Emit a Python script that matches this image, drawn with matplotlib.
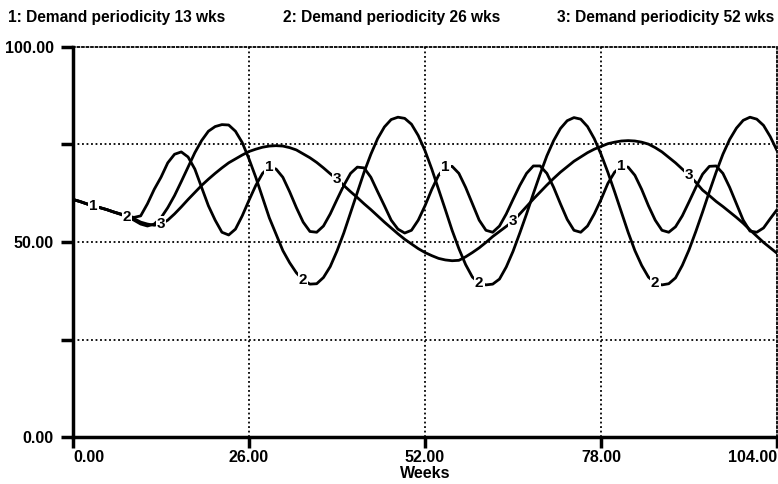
import numpy as np
import matplotlib.pyplot as plt

plt.rcParams['font.family'] = ['Liberation Sans', 'DejaVu Sans']

# weeks 0..104
weeks = np.arange(0, 105)

# 1: Demand periodicity 13 wks
demand_13 = [60.9, 60.4, 59.8, 59.2, 58.8, 58.3, 57.7, 57.2, 56.7, 56.3,
             56.7, 59.8, 63.5, 66.6, 70.3, 72.5, 73.1, 71.8, 68.7, 64.0,
             59.3, 55.6, 52.5, 51.8, 53.3, 56.7, 60.7, 64.5, 67.6, 69.2,
             68.7, 66.6, 62.9, 58.8, 55.1, 52.7, 52.5, 54.1, 57.2, 60.9,
             64.5, 67.6, 69.2, 69.0, 66.6, 62.9, 59.3, 55.6, 53.3, 52.3,
             53.0, 55.6, 59.3, 63.5, 67.1, 69.2, 69.4, 67.6, 64.0, 59.8,
             55.6, 53.0, 52.5, 54.1, 57.2, 60.9, 64.5, 67.6, 69.5, 69.5,
             67.6, 64.0, 59.8, 55.8, 53.0, 52.5, 54.1, 57.2, 60.9, 65.0,
             67.9, 69.4, 69.2, 67.1, 63.5, 59.3, 55.6, 53.0, 52.5, 53.9,
             56.7, 60.3, 64.0, 67.4, 69.4, 69.5, 67.6, 64.0, 59.8, 55.6,
             52.8, 52.5, 53.6, 56.0, 58.3]

# 2: Demand periodicity 26 wks
demand_26 = [60.9, 60.4, 59.8, 59.3, 58.8, 58.3, 57.7, 57.1, 56.5, 55.6,
             54.6, 54.1, 54.6, 56.2, 58.8, 61.9, 65.5, 69.2, 72.9, 76.0,
             78.4, 79.6, 80.1, 80.0, 78.4, 75.5, 71.3, 66.6, 61.4, 56.2,
             52.0, 47.8, 44.7, 42.1, 40.3, 39.2, 39.3, 40.9, 43.7, 47.7,
             52.3, 57.5, 62.7, 67.9, 72.5, 76.5, 79.5, 81.4, 82.0, 81.7,
             80.2, 77.3, 73.4, 68.7, 63.5, 58.3, 53.0, 48.3, 44.2, 41.0,
             39.5, 39.0, 39.2, 40.5, 43.6, 47.6, 52.3, 57.2, 62.4, 67.4,
             72.1, 76.0, 79.1, 81.1, 81.9, 81.5, 79.6, 76.5, 72.5, 67.9,
             62.9, 57.7, 52.5, 47.8, 44.0, 41.0, 39.5, 39.0, 39.3, 40.8,
             44.0, 48.0, 52.7, 57.7, 62.9, 67.9, 72.5, 76.3, 79.2, 81.2,
             82.0, 81.5, 79.9, 77.0, 73.4]

# 3: Demand periodicity 52 wks
demand_52 = [60.9, 60.4, 59.8, 59.3, 58.8, 58.3, 57.7, 57.2, 56.7, 56.0,
             55.1, 54.6, 54.3, 54.6, 55.6, 57.2, 59.0, 60.9, 62.7, 64.5,
             66.1, 67.6, 69.0, 70.3, 71.3, 72.3, 73.2, 73.8, 74.3, 74.6,
             74.7, 74.6, 74.2, 73.6, 72.6, 71.6, 70.4, 69.0, 67.5, 66.1,
             64.5, 62.9, 61.4, 59.8, 58.3, 56.7, 55.1, 53.6, 52.1, 50.7,
             49.5, 48.3, 47.3, 46.5, 45.8, 45.4, 45.2, 45.3, 46.2, 47.3,
             48.5, 49.9, 51.4, 52.7, 54.0, 55.3, 57.2, 59.1, 61.0, 62.8,
             64.6, 66.3, 67.9, 69.3, 70.7, 71.8, 72.9, 73.8, 74.5, 75.2,
             75.6, 75.9, 76.0, 75.9, 75.6, 75.1, 74.2, 73.1, 71.7, 70.3,
             68.7, 67.1, 65.3, 63.3, 61.9, 60.4, 59.1, 57.7, 56.3, 54.8,
             53.1, 51.5, 49.9, 48.5, 47.1]

series = [demand_13, demand_26, demand_52]
series_names = ['1: Demand periodicity 13 wks', '2: Demand periodicity 26 wks',
                '3: Demand periodicity 52 wks']
# weeks where the curve number is written on each line
label_weeks = [[3, 29, 55, 81], [8, 34, 60, 86], [13, 39, 65, 91]]

x_ticks = [0, 26, 52, 78, 104]
x_tick_labels = ['0.00', '26.00', '52.00', '78.00', '104.00']
y_ticks = [0, 25, 50, 75, 100]
y_tick_labels = ['0.00', '', '50.00', '', '100.00']


fig = plt.figure(figsize=(7.78, 4.84), dpi=100)
ax = fig.add_axes([0.0938, 0.0971, 0.905, 0.8058])

# grid
for gx in x_ticks[1:-1]:
    ax.axvline(gx, color='k', lw=1.3, ls=(0, (1, 1.5)), zorder=1)
for gy in [25, 50, 75]:
    ax.axhline(gy, color='k', lw=1.3, ls=(0, (1, 1.5)), zorder=1)

for i, vals in enumerate(series):
    ax.plot(weeks, vals, color='k', lw=2.0, zorder=2, solid_capstyle='round')
    for w in label_weeks[i]:
        ax.text(w, vals[w], str(i + 1), ha='center', va='center',
                fontsize=11, fontweight='bold', zorder=3,
                bbox=dict(facecolor='white', edgecolor='none', pad=0.8))

ax.set_xlim(0, 104)
ax.set_ylim(0, 100)
ax.set_xticks(x_ticks)
ax.set_xticklabels(x_tick_labels, fontsize=11.5, fontweight='bold')
ax.set_yticks(y_ticks)
ax.set_yticklabels(y_tick_labels, fontsize=11.5, fontweight='bold')
labels = ax.get_xticklabels()
labels[0].set_ha('left')
labels[-1].set_ha('right')
ax.tick_params(axis='x', length=8, width=2.5, direction='out', pad=1)
ax.tick_params(axis='y', length=9, width=2.5, direction='out', pad=5)

ax.spines['left'].set_linewidth(2.5)
ax.spines['bottom'].set_linewidth(2.5)
for side in ['top', 'right']:
    ax.spines[side].set_linewidth(1.3)
    ax.spines[side].set_linestyle((0, (1, 1.5)))

ax.set_xlabel('Weeks', fontsize=11.5, fontweight='bold', labelpad=1)

# header with the series names
for name, xpos in zip(series_names, [0.0103, 0.3638, 0.716]):
    fig.text(xpos, 0.963, name, fontsize=11.2, fontweight='bold', va='center')

fig.savefig('out.png', dpi=100)
